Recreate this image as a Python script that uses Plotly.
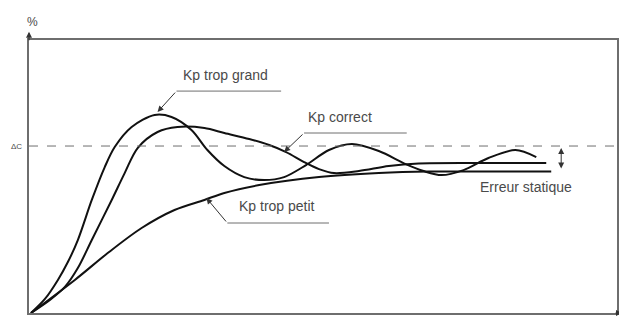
import plotly.graph_objects as go

# ---- data (time in arbitrary units, response in % of setpoint ΔC) ----
t_grand = [2, 16, 29, 39, 49, 63, 76, 86, 103, 126, 143, 163, 179, 196, 216, 236, 256,
           278, 301, 324, 351, 378, 396, 414, 436, 461, 488, 509]
y_grand = [0, 8.4, 19.8, 30.5, 43.7, 67.7, 87.4, 99.4, 111.4, 118.6, 117.4, 109.6, 97.6,
           88.0, 81.4, 79.6, 81.4, 88.6, 97.6, 101.2, 97.0, 89.2, 85.0, 82.6, 85.6,
           92.8, 97.6, 93.4]

t_correct = [2, 21, 36, 49, 63, 83, 96, 109, 129, 149, 176, 196, 221, 241, 258, 276, 291,
             306, 331, 361, 391, 451, 519]
y_correct = [0, 7.8, 15.6, 26.9, 43.7, 67.7, 83.8, 98.8, 108.4, 111.4, 110.8, 107.8, 104.2,
             100.6, 96.4, 90.4, 86.2, 83.8, 85.0, 88.0, 89.5, 89.8, 89.8]

t_petit = [2, 46, 79, 113, 146, 176, 196, 231, 291, 351, 401, 461, 524]
y_petit = [0, 19.8, 35.9, 50.9, 61.7, 67.7, 71.9, 76.6, 81.4, 83.8, 84.7, 84.7, 84.7]

setpoint = 100
labels = ["Kp trop grand", "Kp correct", "Kp trop petit", "Erreur statique"]

X_MAX = 590
Y_MAX = 163.5

GRAY = "#6e6e6e"
TXT = "#4a4a4a"
FONT = "Liberation Sans, Arial, sans-serif"

fig = go.Figure()
for t, y in [(t_grand, y_grand), (t_correct, y_correct), (t_petit, y_petit)]:
    fig.add_trace(go.Scatter(x=t, y=y, mode="lines",
                             line=dict(color="#111111", width=2, shape="spline", smoothing=0.9),
                             hoverinfo="skip", showlegend=False))

# setpoint dashed line
fig.add_shape(type="line", xref="paper", x0=0, x1=1, yref="y", y0=setpoint, y1=setpoint,
              line=dict(color=GRAY, width=1, dash="dash"))

# leader lines
leaders = [
    [(253, 132.9), (148, 132.9)],
    [(379, 107.8), (276, 107.8)],
    [(301, 53.9), (199, 53.9)],
]
for (x0, y0), (x1, y1) in leaders:
    fig.add_shape(type="line", x0=x0, y0=y0, x1=x1, y1=y1, line=dict(color=GRAY, width=1))

arrows = [
    ((129, 120.4), (148, 132.9)),
    ((256, 96.4), (276, 107.8)),
    ((178, 68.9), (199, 53.9)),
]
for (xt, yt), (xa, ya) in arrows:
    fig.add_annotation(x=xt, y=yt, ax=xa, ay=ya, axref="x", ayref="y", text="",
                       showarrow=True, arrowhead=2, arrowsize=1.2, arrowwidth=1,
                       arrowcolor="#333333")

# static error double arrow
fig.add_annotation(x=534, y=98.8, ax=534, ay=85.6, axref="x", ayref="y", text="",
                   showarrow=True, arrowhead=2, startarrowhead=2, arrowside="end+start",
                   arrowsize=1.2, startarrowsize=1.2, arrowwidth=1, arrowcolor="#333333")

# text labels
label_pos = [(197, 142.5), (312, 117.4), (249, 64.1), (499, 75.4)]
for txt, (x, y) in zip(labels, label_pos):
    fig.add_annotation(x=x, y=y, text=txt, showarrow=False,
                       font=dict(family=FONT, size=14, color=TXT))

# axis arrows, '%' and ΔC
fig.add_annotation(xref="paper", yref="paper", x=0, y=1.03, ax=0, ay=10, text="",
                   showarrow=True, arrowhead=2, arrowsize=1, arrowwidth=1.2, arrowcolor="#333333")
fig.add_annotation(xref="paper", yref="paper", x=1.0085, y=0, ax=-8, ay=0, text="",
                   showarrow=True, arrowhead=2, arrowsize=1, arrowwidth=1.2, arrowcolor="#333333")
fig.add_annotation(xref="paper", yref="paper", x=-0.007, y=1.1, text="%", showarrow=False,
                   font=dict(family=FONT, size=12, color=TXT))
fig.add_annotation(xref="paper", yref="y", x=-0.008, y=setpoint, xanchor="right",
                   text="ΔC", showarrow=False, font=dict(family=FONT, size=8, color=TXT))

fig.update_xaxes(range=[0, X_MAX], showgrid=False, zeroline=False, showticklabels=False,
                 ticks="", showline=True, linecolor=GRAY, linewidth=1.5, mirror=True)
fig.update_yaxes(range=[0, Y_MAX], showgrid=False, zeroline=False, showticklabels=False,
                 ticks="", showline=True, linecolor=GRAY, linewidth=1.5, mirror=True)

# page body adds an 8px offset, so the figure is sized/margined to compensate
fig.update_layout(width=619, height=317, margin=dict(l=21, r=8, t=32, b=12),
                  plot_bgcolor="white", paper_bgcolor="white", showlegend=False)

fig.write_html("out.html")
